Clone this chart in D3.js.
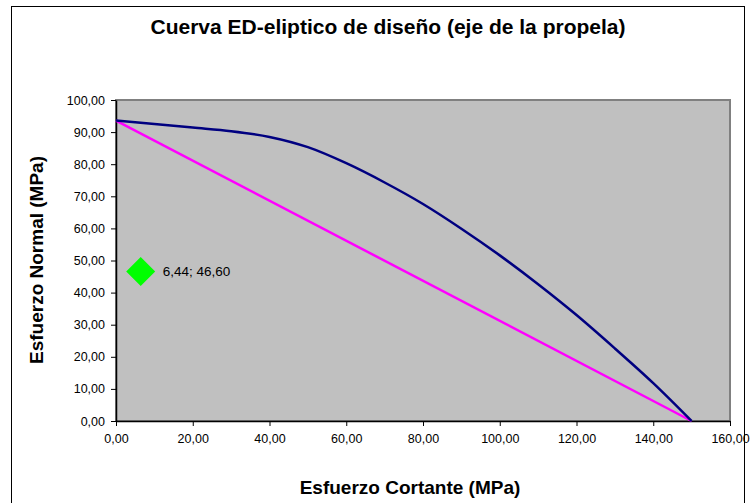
<!DOCTYPE html>
<html>
<head>
<meta charset="utf-8">
<script src="https://cdn.jsdelivr.net/npm/d3@7"></script>
<style>
  html, body { margin: 0; padding: 0; background: #fff; }
  svg { display: block; font-family: "Liberation Sans", Arial, sans-serif; }
</style>
</head>
<body>
<svg id="chart" width="752" height="503"></svg>
<script>
// Elliptic design curve (shear stress, normal stress), MPa
const curveTau   = [0, 10, 20, 30, 40, 50, 60, 70, 80, 90, 100, 110, 120, 130, 140, 150];
const curveSigma = [93.6, 92.5, 91.4, 90.3, 88.5, 85.3, 80.3, 74.3, 67.6, 59.9, 51.6, 42.6, 33.0, 22.6, 11.8, 0];

// Linear limit line
const lineTau   = [0, 150];
const lineSigma = [93.6, 0];

// Operating point
const pointTau   = [6.44];
const pointSigma = [46.60];

const xTicks = [0, 20, 40, 60, 80, 100, 120, 140, 160];
const yTicks = [0, 10, 20, 30, 40, 50, 60, 70, 80, 90, 100];

const fmt = v => v.toFixed(2).replace(".", ",");

const svg = d3.select("#chart");
const plot = { left: 116, top: 100, right: 730, bottom: 421 };

const x = d3.scaleLinear().domain([0, 160]).range([plot.left, plot.right]);
const y = d3.scaleLinear().domain([0, 100]).range([plot.bottom, plot.top]);

// Chart frame
svg.append("rect")
  .attr("x", 11.5).attr("y", 6.5).attr("width", 733).attr("height", 520)
  .attr("fill", "#fff").attr("stroke", "#000").attr("stroke-width", 1);

// Plot area
svg.append("rect")
  .attr("x", plot.left).attr("y", plot.top)
  .attr("width", plot.right - plot.left).attr("height", plot.bottom - plot.top)
  .attr("fill", "#c0c0c0").attr("stroke", "#808080").attr("stroke-width", 2);

// Axes
const xAxis = svg.append("g")
  .attr("transform", `translate(0,${plot.bottom})`)
  .call(d3.axisBottom(x).tickValues(xTicks).tickFormat(fmt).tickSize(5).tickSizeOuter(0).tickPadding(8));
const yAxis = svg.append("g")
  .attr("transform", `translate(${plot.left},0)`)
  .call(d3.axisLeft(y).tickValues(yTicks).tickFormat(fmt).tickSize(5).tickSizeOuter(0).tickPadding(6));

[xAxis, yAxis].forEach(g => {
  g.select(".domain").attr("stroke", "#000").attr("stroke-width", 1.5);
  g.selectAll(".tick line").attr("stroke", "#000");
  g.selectAll(".tick text")
    .attr("fill", "#000")
    .style("font-family", "'Liberation Sans', Arial, sans-serif")
    .style("font-size", "12.5px");
});

// Series
const line = d3.line().x(d => x(d[0])).y(d => y(d[1]));

svg.append("path")
  .datum(d3.zip(lineTau, lineSigma))
  .attr("d", line)
  .attr("fill", "none").attr("stroke", "#ff00ff").attr("stroke-width", 2.5);

svg.append("path")
  .datum(d3.zip(curveTau, curveSigma))
  .attr("d", line.curve(d3.curveMonotoneX))
  .attr("fill", "none").attr("stroke", "#000080").attr("stroke-width", 2.5);

const pts = d3.zip(pointTau, pointSigma);
svg.selectAll(".pt").data(pts).join("path")
  .attr("class", "pt")
  .attr("transform", d => `translate(${x(d[0])},${y(d[1])})`)
  .attr("d", "M0,-14.5L14.5,0L0,14.5L-14.5,0Z")
  .attr("fill", "#00ff00");

svg.selectAll(".ptlabel").data(pts).join("text")
  .attr("class", "ptlabel")
  .attr("x", d => x(d[0]) + 22)
  .attr("y", d => y(d[1]))
  .attr("dy", "0.35em")
  .style("font-size", "13.5px")
  .text(d => `${fmt(d[0])}; ${fmt(d[1])}`);

// Titles
svg.append("text")
  .attr("x", 388).attr("y", 34)
  .attr("text-anchor", "middle")
  .style("font-size", "21px").style("font-weight", "bold")
  .text("Cuerva ED-eliptico de diseño (eje de la propela)");

svg.append("text")
  .attr("x", 410).attr("y", 494)
  .attr("text-anchor", "middle")
  .style("font-size", "19px").style("font-weight", "bold")
  .text("Esfuerzo Cortante (MPa)");

svg.append("text")
  .attr("transform", "translate(43,260) rotate(-90)")
  .attr("text-anchor", "middle")
  .style("font-size", "19px").style("font-weight", "bold")
  .text("Esfuerzo Normal (MPa)");
</script>
</body>
</html>
